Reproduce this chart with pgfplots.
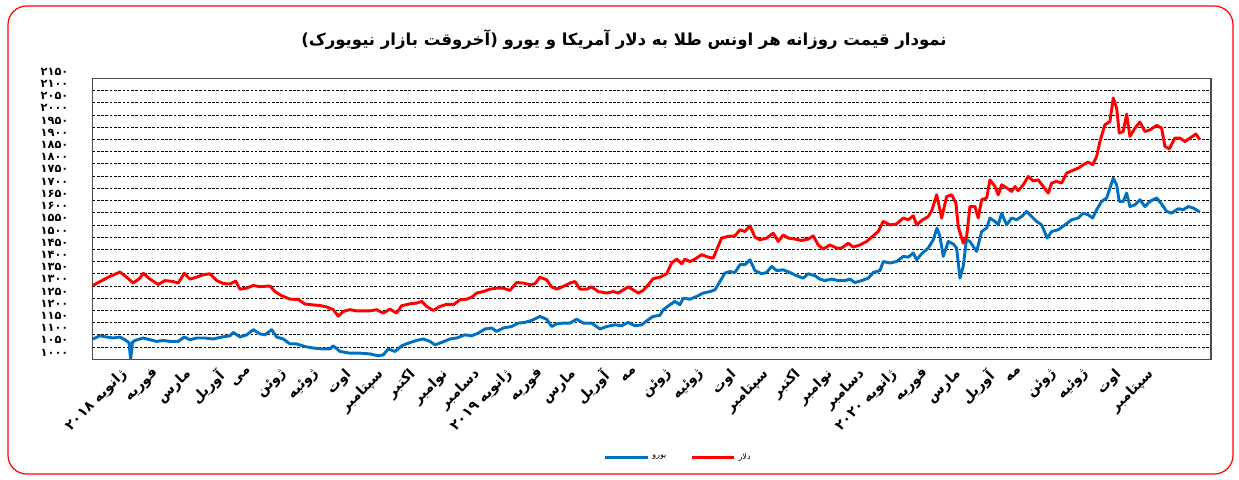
\documentclass[border=0pt]{standalone}
\usepackage{fontspec}
\usepackage{pgfplots}
\pgfplotsset{compat=1.18}
\TeXXeTstate=1
\newfontfamily\arabicfont[Script=Arabic]{DejaVu Sans}
\definecolor{eurblue}{RGB}{0,112,192}
\definecolor{usdred}{RGB}{255,0,0}
\begin{document}
\begin{tikzpicture}
\useasboundingbox (0,0) rectangle (929.25pt,359.25pt);
\draw[red, line width=0.9pt, rounded corners=14pt] (6pt,3.75pt) rectangle (924.75pt,354.75pt);
\node[font=\arabicfont\bfseries\fontsize{12.4}{14}\selectfont] at (468pt,329.25pt)
  {\beginR نمودار قیمت روزانه هر اونس طلا به دلار آمریکا و یورو (\kern0pt آخروقت بازار نیویورک\kern0pt)\endR};
\begin{axis}[
  scale only axis, width=838.7pt, height=210.75pt,
  anchor=south west, at={(69.5pt,89.8pt)},
  xmin=92.7, xmax=1211, ymin=1000, ymax=2150,
  ytick={1000,1050,...,2150},
  yticklabels={۱۰۰۰,۱۰۵۰,۱۱۰۰,۱۱۵۰,۱۲۰۰,۱۲۵۰,۱۳۰۰,۱۳۵۰,۱۴۰۰,۱۴۵۰,۱۵۰۰,۱۵۵۰,۱۶۰۰,۱۶۵۰,۱۷۰۰,۱۷۵۰,۱۸۰۰,۱۸۵۰,۱۹۰۰,۱۹۵۰,۲۰۰۰,۲۰۵۰,۲۱۰۰,۲۱۵۰},
  xtick={112,144.1,176.2,208.2,240.3,272.4,304.5,336.6,368.6,400.7,432.8,464.9,497,529,561.1,593.2,625.3,657.4,689.4,721.5,753.6,785.7,817.8,849.8,881.9,914,946.1,978.2,1010.2,1042.3,1074.4,1106.5,1138.6},
  xticklabels={{\beginR ژانویه ۲۰۱۸\endR},{\beginR فوریه\endR},{\beginR مارس\endR},{\beginR آوریل\endR},{\beginR می\endR},{\beginR ژوئن\endR},{\beginR ژوئیه\endR},{\beginR اوت\endR},{\beginR سپتامبر\endR},{\beginR اکتبر\endR},{\beginR نوامبر\endR},{\beginR دسامبر\endR},
               {\beginR ژانویه ۲۰۱۹\endR},{\beginR فوریه\endR},{\beginR مارس\endR},{\beginR آوریل\endR},{\beginR مه\endR},{\beginR ژوئن\endR},{\beginR ژوئیه\endR},{\beginR اوت\endR},{\beginR سپتامبر\endR},{\beginR اکتبر\endR},{\beginR نوامبر\endR},{\beginR دسامبر\endR},
               {\beginR ژانویه ۲۰۲۰\endR},{\beginR فوریه\endR},{\beginR مارس\endR},{\beginR آوریل\endR},{\beginR مه\endR},{\beginR ژوئن\endR},{\beginR ژوئیه\endR},{\beginR اوت\endR},{\beginR سپتامبر\endR}},
  ymajorgrids,
  major grid style={black, line width=0.5pt, dash pattern=on 2pt off 1.2pt},
  major tick length=0pt,
  axis line style={draw=black!70, line width=1.1pt},
  yticklabel style={font=\arabicfont\bfseries\fontsize{8.5}{9}\selectfont, anchor=east, inner sep=0pt, xshift=-18pt, yshift=5pt},
  xticklabel style={font=\arabicfont\bfseries\fontsize{10.5}{11}\selectfont, rotate=45, anchor=north east, inner sep=0pt, yshift=-8pt},
  legend style={at={(0.524,-0.348)}, anchor=center, draw=none, fill=none,
    font=\arabicfont\fontsize{6}{7}\selectfont, inner sep=0pt,
    /tikz/every even column/.append style={column sep=16pt}},
  legend columns=2,
  legend image code/.code={\draw[#1] (0pt,0pt) -- (32pt,0pt);},
]
\addplot[eurblue, line width=2.2pt, line join=round, mark=none] coordinates {
(93,1083)(100,1096)(106.7,1091)(113.3,1087)(120,1091)(125,1080)(129,1068)(130.7,1000)(132.5,1070)(135,1077)
(143.3,1087)(150,1080)(156.7,1073)(163.3,1077)(170,1073)(178.3,1073)(184.3,1091)(190,1080)(196.7,1087)(205,1087)
(213.3,1083)(221.7,1091)(230,1096)(233.3,1110)(240,1091)(246.7,1100)(253.3,1121)(260,1104)(265,1100)(271.7,1121)
(276.7,1091)(283.3,1083)(290,1063)(296.7,1063)(305,1052)(313.3,1046)(323.3,1042)(330,1042)(333.3,1055)(340,1032)
(350,1025)(360,1025)(370,1022)(378.3,1014)(383.3,1018)(388.3,1042)(395,1032)(401.7,1055)(408.3,1066)(416.7,1077)
(423.3,1083)(430,1073)(435,1059)(441.7,1069)(450,1083)(456.7,1087)(465,1100)(471.7,1096)(478.3,1107)(485,1124)
(491.7,1128)(496.7,1114)(503.3,1128)(511.7,1134)(518.3,1148)(525,1151)(531.7,1159)(540,1175)(546.7,1164)(551.7,1134)
(556.7,1145)(563.3,1148)(570,1148)(576.7,1164)(583.3,1148)(591.7,1148)(600,1124)(606.7,1134)(615,1141)(621.7,1137)
(628.3,1151)(635,1137)(641.7,1141)(648.3,1162)(653,1175)(660,1180)(663.3,1203)(670,1223)(675,1237)(680,1223)
(683.3,1250)(690,1246)(696.7,1257)(703.3,1271)(710,1277)(715,1284)(720,1318)(725,1353)(730,1359)(735,1355)
(740,1387)(745,1387)(750,1407)(755,1363)(761.7,1350)(766.7,1355)(771.7,1380)(776.7,1363)(783.3,1366)(790,1355)
(796.7,1342)(803.3,1332)(808.3,1350)(815,1342)(820,1328)(825,1322)(831.7,1328)(838.3,1322)(845,1322)(850,1328)
(855,1314)(861.7,1322)(868.3,1332)(873.3,1355)(880,1363)(883.3,1400)(890,1394)(896.7,1400)(903.3,1421)(908.3,1418)
(913.3,1435)(916.7,1407)(921.7,1432)(928.3,1455)(933.3,1489)(937,1537)(940,1503)(943.3,1421)(948.3,1482)(953.3,1472)
(956.7,1455)(960,1332)(963.3,1380)(966.5,1490)(970,1482)(976.7,1441)(981.7,1523)(986.7,1537)(990,1578)(995,1564)
(998.3,1550)(1001.7,1598)(1006.7,1550)(1011.7,1578)(1016.7,1571)(1021.7,1584)(1026.7,1605)(1031.7,1584)(1036.7,1564)(1041.7,1550)
(1047.3,1496)(1051.7,1523)(1058.3,1530)(1065,1550)(1071.7,1571)(1078.3,1578)(1083.3,1598)(1088.3,1591)(1092.7,1578)(1096.7,1612)
(1101.7,1646)(1106.7,1660)(1113.3,1741)(1116.7,1714)(1119.3,1646)(1123.3,1646)(1126.7,1680)(1130,1625)(1135,1632)(1140,1653)
(1145,1625)(1150,1646)(1156.7,1660)(1161.7,1635)(1166.7,1605)(1171.7,1598)(1178.3,1616)(1183.3,1612)(1188.3,1625)(1193.3,1619)
(1200,1602)
};
\addlegendentry{یورو}
\addplot[usdred, line width=2.2pt, line join=round, mark=none] coordinates {
(93,1302)(100,1318)(106.7,1332)(110,1339)(113.3,1345)(120,1357)(126.7,1336)(133.3,1312)(140,1332)(143.3,1352)
(150,1328)(158.3,1306)(165,1322)(173.3,1318)(178.3,1312)(184.3,1352)(190,1328)(196.7,1336)(203.3,1346)(210,1350)
(216.7,1322)(223.3,1310)(230,1308)(235.7,1320)(240,1287)(246.7,1291)(253.3,1302)(260,1297)(270,1300)(275,1277)
(281.7,1260)(290,1246)(298.3,1245)(305,1226)(311.7,1223)(320,1220)(326.7,1214)(333.3,1203)(338.3,1176)(343.3,1196)
(350,1203)(356.7,1198)(363.3,1198)(370,1198)(376.7,1203)(383.3,1189)(390,1205)(396.7,1189)(401.7,1219)(410,1227)
(416.7,1230)(421.7,1237)(426.7,1216)(433.3,1200)(440,1216)(446.7,1225)(453.3,1223)(460,1243)(466.7,1246)(471.7,1254)
(476.7,1271)(483.3,1277)(490,1287)(496.7,1291)(503.3,1291)(510,1282)(516.7,1314)(523.3,1312)(530,1305)(535,1309)
(540,1336)(546.7,1325)(551.7,1296)(556.7,1287)(563.3,1298)(570,1312)(575,1318)(580,1287)(586.7,1287)(591.7,1296)
(598.3,1277)(606.7,1271)(613.3,1277)(618.3,1271)(623.3,1284)(628.3,1296)(633.3,1284)(638.3,1271)(643.3,1282)(648.3,1305)
(653.3,1330)(660,1336)(666.7,1350)(671.7,1394)(676.7,1410)(681.7,1391)(685,1410)(690,1400)(695,1410)(701.7,1428)
(708.3,1418)(713.3,1414)(716.7,1448)(721.7,1496)(728.3,1503)(735,1505)(740,1530)(745,1523)(750,1546)(755,1500)
(760,1489)(766.7,1496)(773.3,1516)(778.3,1482)(783.3,1509)(788.3,1496)(795,1492)(801.7,1486)(808.3,1492)(813.3,1505)
(818.3,1468)(823.3,1451)(830,1468)(836.7,1455)(841.7,1455)(848.3,1475)(853.3,1459)(860,1468)(866.7,1482)(871.7,1500)
(878.3,1523)(883.3,1564)(890,1550)(896.7,1554)(903.3,1578)(908.3,1571)(913.3,1587)(916.7,1550)(921.7,1568)(928.3,1584)
(932,1610)(936.7,1673)(941.7,1578)(946.7,1666)(951.7,1673)(956,1639)(958.3,1543)(963.3,1475)(966.7,1503)(970,1625)
(975,1625)(978.3,1578)(981.7,1653)(986.7,1660)(990,1734)(995,1707)(998.3,1673)(1001.7,1714)(1006.7,1701)(1011.7,1687)
(1015,1707)(1018.3,1690)(1023.3,1714)(1028.3,1748)(1033.3,1730)(1038.3,1734)(1043.3,1707)(1048.3,1680)(1051.7,1721)(1056.7,1728)
(1061.7,1721)(1066.7,1762)(1071.7,1771)(1078.3,1782)(1083.3,1796)(1088.3,1807)(1092.7,1796)(1096.7,1830)(1100,1891)(1105,1960)
(1110,1973)(1113.3,2069)(1116.7,2028)(1119.3,1926)(1123.3,1932)(1126.7,2003)(1130,1912)(1135,1946)(1140,1971)(1145,1932)
(1150,1939)(1156.7,1957)(1161.7,1946)(1165,1871)(1169.3,1861)(1175,1905)(1180,1905)(1185,1891)(1190,1905)(1196,1922)
(1200,1898)
};
\addlegendentry{دلار}
\end{axis}
\end{tikzpicture}
\end{document}
